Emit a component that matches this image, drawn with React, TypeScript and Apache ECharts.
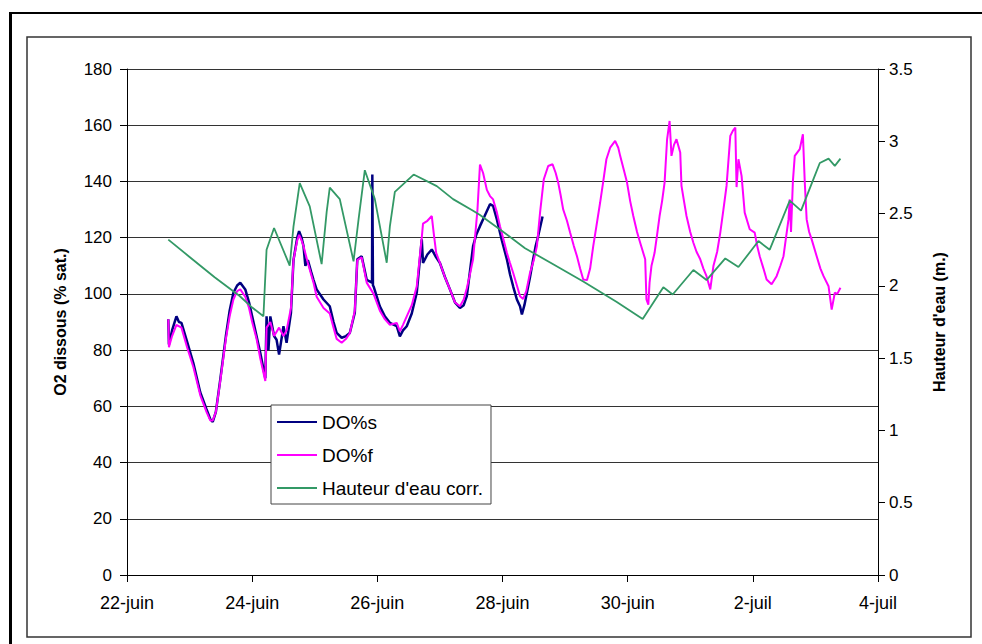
import React, { useEffect, useRef } from "react";
import * as echarts from "echarts";

// x values are days after 22-juin 00:00
const dayTickLabels = ["22-juin", "24-juin", "26-juin", "28-juin", "30-juin", "2-juil", "4-juil"];

const doS: [number, number][] = [
  [0.66, 91], [0.67, 82], [0.72, 87], [0.79, 92], [0.83, 90], [0.87, 89.7], [0.96, 83], [1.06, 75.4],
  [1.17, 65], [1.27, 59], [1.33, 55.5], [1.37, 54.5], [1.42, 58], [1.49, 69.5], [1.58, 85],
  [1.64, 94], [1.7, 100.4], [1.76, 103], [1.81, 104], [1.89, 101.6], [1.95, 97], [2.0, 92],
  [2.07, 85], [2.13, 79], [2.21, 70], [2.23, 92], [2.26, 80], [2.29, 92], [2.35, 85], [2.39, 83.7],
  [2.43, 78.4], [2.5, 88.5], [2.55, 82.6], [2.62, 93.3], [2.66, 112], [2.72, 120], [2.75, 122.3],
  [2.79, 120], [2.82, 117], [2.85, 110], [2.89, 112], [2.94, 108], [2.98, 105], [3.03, 101.6],
  [3.14, 98], [3.24, 95.6], [3.3, 90], [3.35, 86.1], [3.43, 84.4], [3.5, 85], [3.56, 86.1],
  [3.64, 93.3], [3.68, 112.3], [3.75, 113.4], [3.83, 105], [3.915, 104], [3.92, 142.5], [3.93, 103],
  [3.94, 102.7], [4.04, 95.6], [4.12, 92], [4.2, 89.7], [4.31, 88.5], [4.36, 84.9], [4.41, 87],
  [4.47, 88.5], [4.55, 93], [4.63, 100.4], [4.71, 119.4], [4.73, 111], [4.8, 114], [4.87, 115.8],
  [4.94, 113], [5.0, 111], [5.08, 106], [5.16, 101.6], [5.24, 97], [5.32, 95], [5.38, 96],
  [5.43, 99.2], [5.48, 108], [5.53, 117], [5.58, 121], [5.64, 124.1], [5.72, 128], [5.8, 131.9],
  [5.85, 131.3], [5.91, 126.5], [5.99, 119], [6.07, 112.3], [6.12, 107], [6.17, 102.7], [6.23, 98],
  [6.28, 95.6], [6.31, 92.7], [6.35, 96], [6.39, 100.4], [6.44, 106], [6.49, 112.3], [6.53, 117],
  [6.57, 120.6], [6.64, 127.5],
];

const doF: [number, number][] = [
  [0.66, 91], [0.67, 81], [0.72, 85], [0.79, 89], [0.87, 88], [0.96, 81], [1.06, 74], [1.17, 64],
  [1.27, 58], [1.33, 55], [1.37, 55], [1.42, 58], [1.49, 69], [1.58, 84], [1.64, 92], [1.7, 98],
  [1.76, 101], [1.81, 101.6], [1.89, 99], [1.95, 95], [2.0, 90], [2.07, 84], [2.13, 77], [2.21, 69],
  [2.23, 88], [2.29, 90], [2.35, 85], [2.43, 88], [2.5, 85], [2.55, 87], [2.62, 95], [2.66, 112],
  [2.72, 119], [2.75, 121], [2.79, 119], [2.82, 117], [2.89, 111], [2.98, 104], [3.03, 99], [3.14, 95],
  [3.24, 93], [3.3, 88], [3.35, 84], [3.43, 82.6], [3.5, 84], [3.56, 86], [3.64, 94], [3.68, 112],
  [3.75, 113], [3.83, 104], [3.94, 100], [4.04, 94], [4.12, 91], [4.2, 89], [4.31, 89.7], [4.36, 86.7],
  [4.41, 89], [4.47, 92], [4.55, 96], [4.63, 102.7], [4.71, 120], [4.73, 125], [4.8, 126], [4.87, 127.7],
  [4.9, 121.8], [4.94, 114.6], [5.0, 111], [5.08, 106], [5.16, 101.6], [5.24, 97], [5.32, 95.6],
  [5.38, 98], [5.43, 102], [5.48, 107], [5.53, 112.3], [5.6, 130], [5.64, 146], [5.69, 143],
  [5.75, 137], [5.8, 134.8], [5.85, 133.6], [5.91, 129], [5.96, 124.1], [6.02, 119], [6.07, 114.6],
  [6.12, 111], [6.17, 107.5], [6.23, 103], [6.28, 99.2], [6.33, 98.2], [6.38, 101], [6.44, 107.5],
  [6.5, 112], [6.55, 117], [6.6, 128.9], [6.66, 140.8], [6.73, 145.5], [6.8, 146.1], [6.85, 143],
  [6.89, 139.6], [6.93, 135], [6.97, 130], [7.03, 126], [7.08, 121.8], [7.14, 117], [7.19, 113.4],
  [7.24, 109], [7.29, 105.1], [7.35, 104.9], [7.4, 109], [7.45, 117], [7.5, 124], [7.56, 132.5],
  [7.61, 140], [7.66, 147.9], [7.72, 152], [7.8, 154.4], [7.85, 152], [7.88, 149.1], [7.94, 144],
  [7.99, 139.6], [8.04, 133], [8.09, 127.7], [8.15, 122], [8.2, 118.2], [8.28, 112.3], [8.3, 98],
  [8.33, 96.2], [8.35, 104], [8.38, 109.9], [8.43, 114.6], [8.47, 121], [8.51, 127.7], [8.55, 133],
  [8.59, 139.6], [8.63, 155], [8.67, 161.5], [8.7, 149.1], [8.74, 153], [8.78, 155], [8.84, 150.3],
  [8.86, 138.4], [8.9, 133], [8.94, 127.7], [9.0, 122], [9.05, 118.2], [9.1, 115], [9.16, 112.3],
  [9.21, 109], [9.26, 106.3], [9.32, 101.6], [9.37, 109.9], [9.43, 115], [9.48, 121.8], [9.53, 130],
  [9.58, 138.4], [9.64, 156.2], [9.68, 158], [9.72, 159.2], [9.74, 138], [9.77, 147.9], [9.82, 142],
  [9.87, 128.9], [9.95, 123], [10.03, 121.8], [10.07, 117], [10.11, 113.4], [10.17, 109], [10.22, 105.1],
  [10.3, 103.4], [10.38, 106.3], [10.44, 110], [10.49, 113.4], [10.53, 120], [10.57, 126.5],
  [10.59, 133.6], [10.61, 122], [10.64, 140], [10.67, 149.1], [10.75, 151.5], [10.8, 156.8],
  [10.83, 139.6], [10.86, 126.5], [10.9, 122], [10.94, 119.4], [11.02, 113.4], [11.08, 109],
  [11.13, 106.3], [11.21, 102.7], [11.26, 94.4], [11.31, 100.4], [11.35, 100], [11.4, 102.2],
];

const hauteur: [number, number][] = [
  [0.66, 2.32], [1.0, 2.2], [1.4, 2.06], [1.8, 1.93], [2.0, 1.85], [2.18, 1.79], [2.23, 2.25],
  [2.35, 2.4], [2.6, 2.14], [2.66, 2.41], [2.76, 2.71], [2.92, 2.55], [3.11, 2.15], [3.19, 2.51],
  [3.24, 2.68], [3.4, 2.6], [3.62, 2.17], [3.7, 2.46], [3.8, 2.8], [3.96, 2.6], [4.15, 2.16],
  [4.2, 2.41], [4.28, 2.65], [4.58, 2.77], [4.95, 2.69], [5.21, 2.6], [5.53, 2.52], [5.64, 2.49],
  [5.96, 2.39], [6.36, 2.26], [6.81, 2.15], [7.29, 2.03], [7.82, 1.89], [8.24, 1.77], [8.57, 1.99],
  [8.72, 1.94], [9.05, 2.11], [9.26, 2.04], [9.56, 2.19], [9.77, 2.13], [10.09, 2.31], [10.27, 2.25],
  [10.59, 2.59], [10.77, 2.52], [10.97, 2.74], [11.07, 2.85], [11.21, 2.88], [11.31, 2.83],
  [11.4, 2.88],
];

const seriesNames = ["DO%s", "DO%f", "Hauteur d'eau corr."];
const seriesColors = ["#000080", "#FF00FF", "#339966"];

const FONT = "'Liberation Sans', Arial, sans-serif";

export default function App() {
  const ref = useRef<HTMLDivElement>(null);
  useEffect(() => {
    document.body.style.margin = "0";
    const chart = echarts.init(ref.current!, null, { renderer: "svg" });
    chart.setOption({
      animation: false,
      backgroundColor: "#fff",
      grid: { left: 127, right: 104, top: 69, bottom: 69, containLabel: false },
      legend: {
        orient: "vertical",
        left: 271,
        top: 405,
        itemWidth: 40,
        itemHeight: 2,
        itemGap: 11,
        padding: [6, 8, 5, 6],
        borderColor: "#444",
        borderWidth: 1,
        borderRadius: 0,
        backgroundColor: "#fff",
        textStyle: { fontFamily: FONT, fontSize: 19, lineHeight: 22, color: "#000" },
        data: seriesNames.map((n) => ({ name: n, icon: "rect" })),
      },
      xAxis: {
        type: "value",
        min: 0,
        max: 12,
        interval: 2,
        axisLine: { lineStyle: { color: "#000", width: 1 } },
        axisTick: { show: true, length: 7, lineStyle: { color: "#000" } },
        axisLabel: {
          margin: 19,
          fontFamily: FONT,
          fontSize: 18,
          color: "#000",
          formatter: (v: number) => dayTickLabels[Math.round(v / 2)] ?? "",
        },
        splitLine: { show: false },
      },
      yAxis: [
        {
          type: "value",
          min: 0,
          max: 180,
          interval: 20,
          name: "O2 dissous (% sat.)",
          nameLocation: "middle",
          nameRotate: 90,
          nameGap: 59,
          nameTextStyle: { fontFamily: FONT, fontSize: 16, fontWeight: "bold", color: "#000" },
          axisLine: { show: true, lineStyle: { color: "#000", width: 1 } },
          axisTick: { show: true, length: 7, lineStyle: { color: "#000" } },
          axisLabel: { margin: 15, fontFamily: FONT, fontSize: 17, color: "#000" },
          splitLine: { show: true, lineStyle: { color: "#333", width: 1 } },
        },
        {
          type: "value",
          min: 0,
          max: 3.5,
          interval: 0.5,
          position: "right",
          name: "Hauteur d'eau (m.)",
          nameLocation: "middle",
          nameRotate: 90,
          nameGap: 53,
          nameTextStyle: { fontFamily: FONT, fontSize: 16, fontWeight: "bold", color: "#000" },
          axisLine: { show: true, lineStyle: { color: "#000", width: 1 } },
          axisTick: { show: true, length: 7, lineStyle: { color: "#000" } },
          axisLabel: { margin: 11, fontFamily: FONT, fontSize: 17, color: "#000" },
          splitLine: { show: false },
        },
      ],
      series: [
        {
          name: seriesNames[0],
          type: "line",
          data: doS,
          symbol: "none",
          color: seriesColors[0],
          lineStyle: { color: seriesColors[0], width: 2.5 },
        },
        {
          name: seriesNames[1],
          type: "line",
          data: doF,
          symbol: "none",
          color: seriesColors[1],
          lineStyle: { color: seriesColors[1], width: 2 },
        },
        {
          name: seriesNames[2],
          type: "line",
          yAxisIndex: 1,
          data: hauteur,
          symbol: "none",
          color: seriesColors[2],
          lineStyle: { color: seriesColors[2], width: 1.8 },
        },
      ],
      graphic: [
        { type: "line", shape: { x1: 10.5, y1: 12, x2: 10.5, y2: 644 }, style: { stroke: "#000", lineWidth: 3 } },
        { type: "line", shape: { x1: 9, y1: 13, x2: 982, y2: 13 }, style: { stroke: "#000", lineWidth: 2 } },
        {
          type: "rect",
          shape: { x: 27, y: 37, width: 944, height: 600 },
          style: { fill: "none", stroke: "#333", lineWidth: 1.5 },
        },
      ],
    });
    return () => chart.dispose();
  }, []);
  return (
    <div
      ref={ref}
      style={{ position: "absolute", left: 0, top: 0, width: 982, height: 644 }}
    />
  );
}
